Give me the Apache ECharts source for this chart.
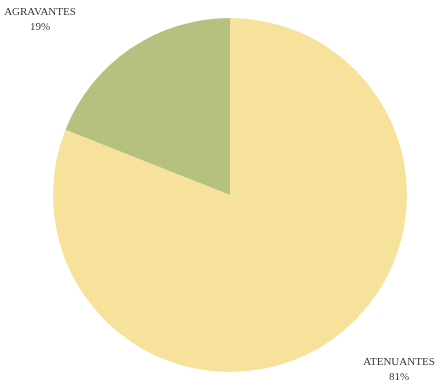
<!DOCTYPE html>
<html>
<head>
<meta charset="utf-8">
<script src="https://cdn.jsdelivr.net/npm/echarts@6/dist/echarts.min.js"></script>
<style>
  html, body { margin: 0; padding: 0; background: #fff; }
  #main { width: 445px; height: 392px; }
</style>
</head>
<body>
<div id="main"></div>
<script>
  // data
  const categories = ['ATENUANTES', 'AGRAVANTES'];
  const values = [81, 19];
  const colors = ['#F6E29B', '#B6C17F'];
  // where each label sits (label anchor, px)
  const labelSpots = [[399, 370], [40, 20]];

  const chart = echarts.init(document.getElementById('main'));
  const option = {
    animation: false,
    series: [
      {
        type: 'pie',
        center: [230, 195],
        radius: 177,
        startAngle: 90,
        clockwise: true,
        data: categories.map((name, i) => ({
          name: name,
          value: values[i],
          itemStyle: { color: colors[i] }
        })),
        label: {
          show: true,
          position: 'outside',
          formatter: '{b}\n{d}%',
          fontFamily: 'Liberation Serif',
          fontSize: 11,
          lineHeight: 15,
          color: '#3a3a3a',
          align: 'center',
          overflow: 'none',
          width: 120,
          bleedMargin: 0
        },
        labelLine: { show: false },
        labelLayout: function (params) {
          const p = labelSpots[params.dataIndex];
          return { x: p[0], y: p[1], align: 'center', verticalAlign: 'middle' };
        },
        emphasis: { disabled: true }
      }
    ]
  };
  chart.setOption(option);
</script>
</body>
</html>
